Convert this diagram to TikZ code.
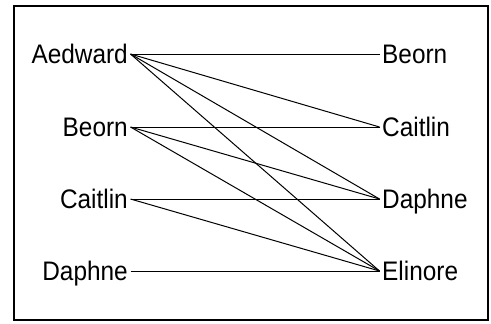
\documentclass[tikz,border=0pt]{standalone}
\usepackage{fontspec}
\setmainfont{Liberation Sans}[FakeStretch=0.91]
\begin{document}
\begin{tikzpicture}[x=1pt,y=-1pt,
  lbl/.style={inner xsep=2.5pt,inner ysep=0pt,text height=19pt,text depth=0pt,font=\fontsize{26.8}{30}\selectfont},
  edge/.style={line width=1pt,black}]
\useasboundingbox (0,0) rectangle (491,324);
\fill[white] (0,0) rectangle (491,324);
\draw[line width=2.4pt] (14,6) rectangle (488,320);
\node[lbl,anchor=east] (la) at (130.5,54) {Aedward};
\node[lbl,anchor=east] (lb) at (130.5,127) {Beorn};
\node[lbl,anchor=east] (lc) at (130.5,199) {Caitlin};
\node[lbl,anchor=east] (ld) at (130.5,271) {Daphne};
\node[lbl,anchor=west] (rb) at (379.5,54) {Beorn};
\node[lbl,anchor=west] (rc) at (379.5,127) {Caitlin};
\node[lbl,anchor=west] (rd) at (379.5,199) {Daphne};
\node[lbl,anchor=west] (re) at (379.5,271) {Elinore};
\draw[edge] (la.east) -- (rb.west);
\draw[edge] (la.east) -- (rc.west);
\draw[edge] (la.east) -- (rd.west);
\draw[edge] (la.east) -- (re.west);
\draw[edge] (lb.east) -- (rc.west);
\draw[edge] (lb.east) -- (rd.west);
\draw[edge] (lb.east) -- (re.west);
\draw[edge] (lc.east) -- (rd.west);
\draw[edge] (lc.east) -- (re.west);
\draw[edge] (ld.east) -- (re.west);
\end{tikzpicture}
\end{document}
